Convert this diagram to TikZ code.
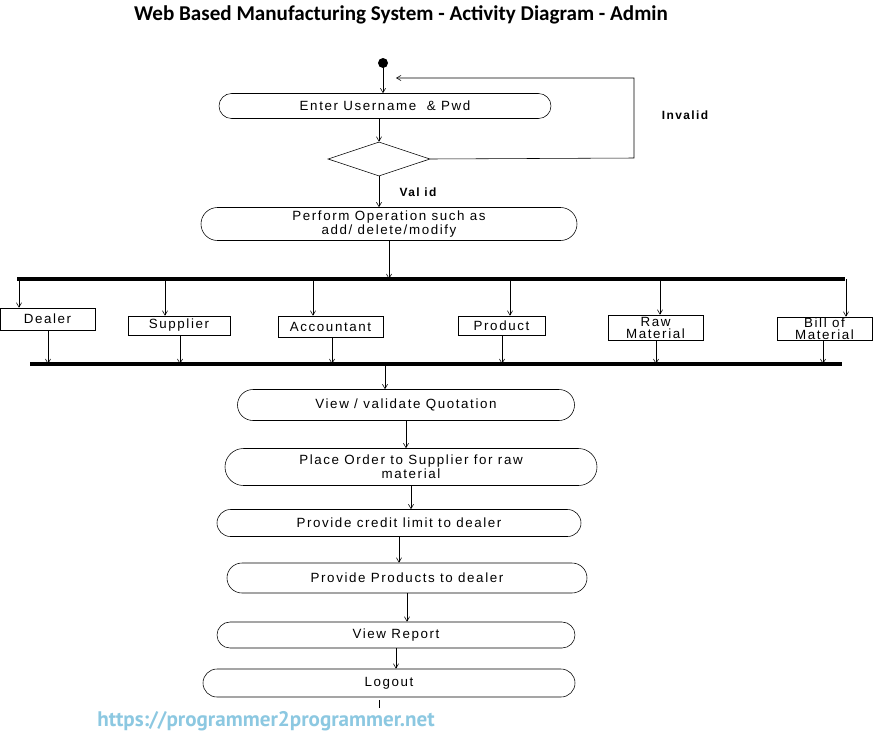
\documentclass[tikz,border=0pt]{standalone}
\usepackage{fontspec}
\setmainfont{Liberation Sans}[LetterSpace=12]
\newfontfamily\titlefont{Carlito}
\newfontfamily\urlfont{PT Sans}
\usetikzlibrary{shapes.misc, shapes.geometric, arrows, positioning}
\definecolor{urlblue}{RGB}{140,200,225}
\newlength{\px}
\setlength{\px}{0.025cm}
\tikzset{
	every node/.style={
		font=\fontsize{9.5}{8.5}\selectfont
	},
	activity/.style={
		shape=rounded rectangle,
		draw,
		inner sep=0pt,
		align=center
	},
	role/.style={
		shape=rectangle,
		draw,
		inner sep=0pt,
		align=center
	},
	decision/.style={
		shape=diamond,
		draw,
		inner sep=0pt,
		minimum width=102\px,
		minimum height=34\px
	},
	bar/.style={
		line width=2.5pt
	},
	flow/.style={
		->, >=angle 60
	}
}

\begin{document}
\begin{tikzpicture}[x=0.025cm, y=-0.025cm]
	
	\useasboundingbox (0,0) rectangle (880,744);
	
	\node[font=\titlefont\bfseries\fontsize{15}{17}\selectfont] (title) at (401,15) {Web Based Manufacturing System - Activity Diagram - Admin};
	
	\fill (383,63) circle (5);
	\coordinate (start) at (383,63);
	
	\node[activity, minimum width=332\px, minimum height=25\px] (login) at (385,106) {Enter Username \ \& Pwd};
	\node[decision] (check) at (379,159) {};
	\node[activity, minimum width=376\px, minimum height=33\px] (perform) at (389,224) {Perform Operation such as\\add/ delete/modify};
	
	\draw[flow] (start) -- (start |- login.north);
	\draw[flow] (login.south -| check.north) -- (check.north);
	\coordinate (loopA) at (634,158);
	\coordinate (loopB) at (634,78);
	\coordinate (loopC) at (396,78);
	\draw[flow] (check.east) -- (loopA) -- (loopB) -- (loopC);
	\node[font=\bfseries\fontsize{8.5}{8.5}\selectfont] (invalid) at (685,115) {Invalid};
	\draw[flow] (check.south) -- (check.south |- perform.north);
	\node[font=\bfseries\fontsize{8.5}{8.5}\selectfont] (valid) at (418,192) {Val id};
	
	% fork and join bars
	\coordinate (forkL) at (17,279);
	\coordinate (forkR) at (845,279);
	\coordinate (joinL) at (30,364);
	\coordinate (joinR) at (842,364);
	\draw[bar] (forkL) -- (forkR);
	\draw[bar] (joinL) -- (joinR);
	\draw[flow] (perform.south) -- (perform.south |- forkL);
	
	% roles
	\node[role, minimum width=95\px, minimum height=22\px] (dealer) at (47.5,319) {Dealer};
	\node[role, minimum width=102\px, minimum height=19\px] (supplier) at (179,325.5) {Supplier};
	\node[role, minimum width=105\px, minimum height=21\px] (accountant) at (330.5,326.5) {Accountant};
	\node[role, minimum width=87\px, minimum height=19\px] (product) at (501.5,325.5) {Product};
	\node[role, minimum width=95\px, minimum height=25\px] (raw) at (655.5,327.5) {Raw\\Material};
	\node[role, minimum width=95\px, minimum height=23\px] (bill) at (824.5,328.5) {Bill of\\Material};
	
	\foreach \r/\xin/\xout in {dealer/19/48, supplier/165/180, accountant/313/332, product/510/502, raw/660/656, bill/846/823} {
		\coordinate (in) at (\xin,279);
		\coordinate (out) at (\xout,364);
		\draw[flow] (in) -- (in |- \r.north);
		\draw[flow] (out |- \r.south) -- (out);
	}
	
	% after the join
	\node[activity, minimum width=337\px, minimum height=31\px] (quote) at (406,405) {View / validate Quotation};
	\node[activity, minimum width=372\px, minimum height=37\px] (order) at (411,467) {Place Order to Supplier for raw\\material};
	\node[activity, minimum width=364\px, minimum height=27\px] (credit) at (399,523) {Provide credit limit to dealer};
	\node[activity, minimum width=360\px, minimum height=30\px] (supply) at (407,578) {Provide Products to dealer};
	\node[activity, minimum width=358\px, minimum height=26\px] (report) at (396,635) {View Report};
	\node[activity, minimum width=372\px, minimum height=28\px] (logout) at (389,683) {Logout};
	\coordinate (joinOut) at (385,364);
	\coordinate (tail) at (379,708);
	\coordinate (tailTop) at (379,700);
	
	\draw[flow] (joinOut) -- (joinOut |- quote.north);
	\draw[flow] (quote.south) -- (quote.south |- order.north);
	\draw[flow] (order.south) -- (order.south |- credit.north);
	\draw[flow] (credit.south) -- (credit.south |- supply.north);
	\draw[flow] (supply.south) -- (supply.south |- report.north);
	\draw[flow] (report.south) -- (report.south |- logout.north);
	\draw (tailTop) -- (tail);
	
	\node[text=urlblue, font=\urlfont\bfseries\fontsize{15}{17}\selectfont] (url) at (266,721) {https://programmer2programmer.net};
	
\end{tikzpicture}
\end{document}
